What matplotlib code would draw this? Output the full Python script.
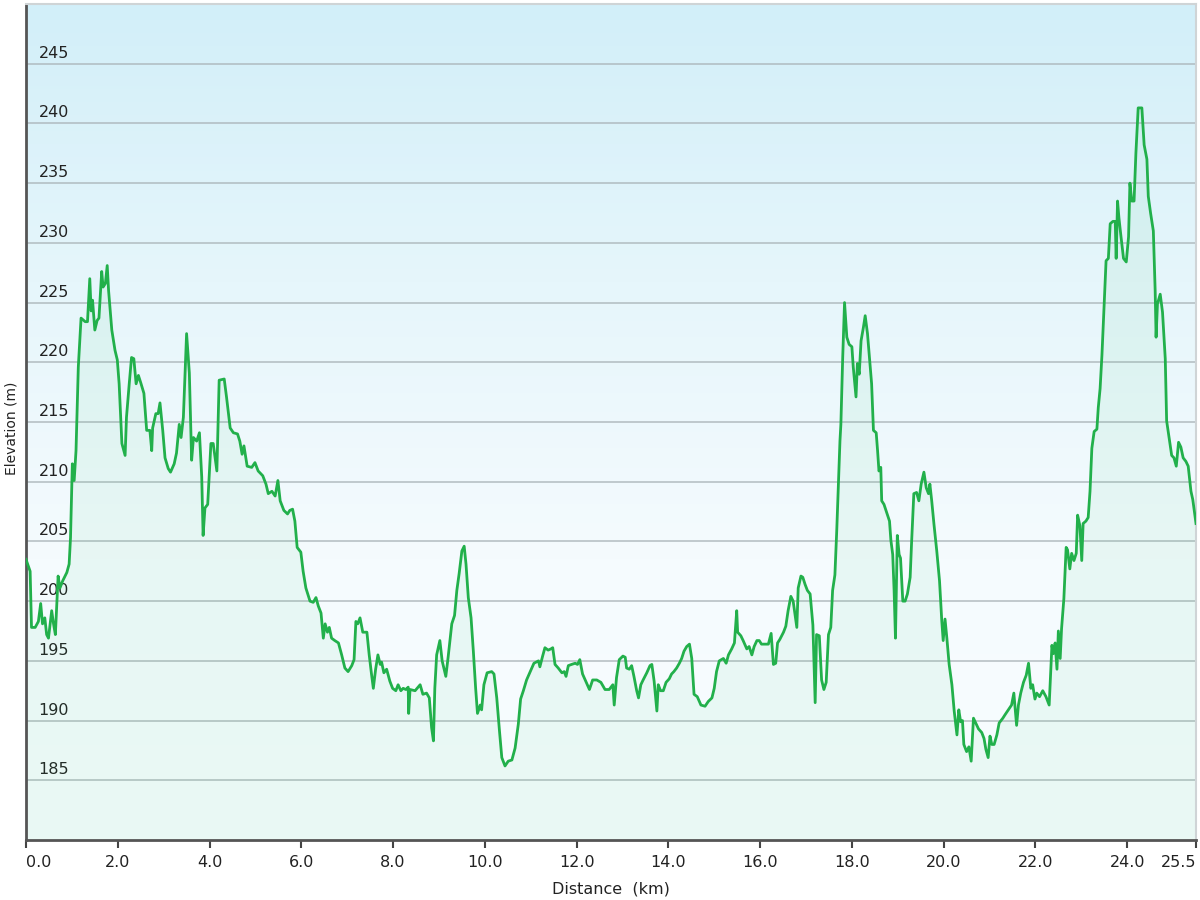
import matplotlib
matplotlib.use("Agg")
import matplotlib.pyplot as plt
import numpy as np
from matplotlib.colors import LinearSegmentedColormap
from matplotlib.transforms import ScaledTranslation

# distance along the route (km) and elevation (m)
distance_km = [
    0.00, 0.09, 0.12, 0.20, 0.27, 0.32, 0.36, 0.41, 0.45, 0.49, 0.56, 0.60, 0.64, 0.70,
    0.74, 0.80, 0.89, 0.94, 0.97, 1.01, 1.05, 1.09, 1.14, 1.20, 1.29, 1.34, 1.39, 1.42,
    1.45, 1.50, 1.55, 1.59, 1.65, 1.68, 1.73, 1.77, 1.80, 1.87, 1.94, 1.99, 2.03, 2.09,
    2.16, 2.19, 2.25, 2.30, 2.35, 2.40, 2.45, 2.50, 2.57, 2.63, 2.70, 2.74, 2.76, 2.83,
    2.88, 2.92, 2.98, 3.03, 3.10, 3.15, 3.23, 3.28, 3.34, 3.38, 3.43, 3.50, 3.56, 3.61,
    3.65, 3.72, 3.78, 3.83, 3.86, 3.90, 3.96, 4.03, 4.08, 4.16, 4.21, 4.32, 4.37, 4.45,
    4.52, 4.61, 4.66, 4.71, 4.75, 4.82, 4.92, 4.99, 5.06, 5.16, 5.23, 5.28, 5.36, 5.43,
    5.49, 5.54, 5.62, 5.70, 5.75, 5.81, 5.86, 5.91, 5.99, 6.04, 6.10, 6.19, 6.26, 6.32,
    6.37, 6.43, 6.48, 6.52, 6.57, 6.61, 6.66, 6.73, 6.81, 6.88, 6.95, 7.02, 7.10, 7.15,
    7.19, 7.23, 7.28, 7.34, 7.43, 7.48, 7.53, 7.57, 7.62, 7.67, 7.72, 7.75, 7.80, 7.86,
    7.93, 7.99, 8.06, 8.11, 8.17, 8.22, 8.28, 8.33, 8.34, 8.37, 8.48, 8.59, 8.65, 8.73,
    8.79, 8.84, 8.88, 8.91, 8.95, 9.02, 9.07, 9.15, 9.20, 9.28, 9.34, 9.39, 9.44, 9.50,
    9.55, 9.59, 9.64, 9.70, 9.75, 9.80, 9.84, 9.90, 9.93, 9.98, 10.05, 10.15, 10.20, 10.26,
    10.32, 10.37, 10.44, 10.51, 10.59, 10.66, 10.73, 10.78, 10.84, 10.91, 10.99, 11.07, 11.17, 11.20,
    11.26, 11.31, 11.38, 11.44, 11.48, 11.53, 11.60, 11.68, 11.73, 11.77, 11.82, 11.89, 11.97, 12.02,
    12.07, 12.13, 12.21, 12.28, 12.35, 12.44, 12.53, 12.62, 12.71, 12.79, 12.82, 12.87, 12.93, 13.01,
    13.06, 13.09, 13.15, 13.20, 13.25, 13.31, 13.35, 13.40, 13.45, 13.53, 13.60, 13.64, 13.69, 13.75,
    13.78, 13.83, 13.89, 13.95, 14.02, 14.07, 14.12, 14.18, 14.24, 14.29, 14.34, 14.40, 14.46, 14.51,
    14.56, 14.63, 14.71, 14.80, 14.87, 14.95, 15.00, 15.05, 15.11, 15.20, 15.26, 15.31, 15.38, 15.44,
    15.49, 15.51, 15.58, 15.63, 15.71, 15.76, 15.82, 15.87, 15.93, 15.98, 16.03, 16.11, 16.18, 16.24,
    16.29, 16.34, 16.38, 16.43, 16.51, 16.56, 16.61, 16.67, 16.72, 16.80, 16.83, 16.89, 16.93, 16.98,
    17.03, 17.09, 17.15, 17.20, 17.23, 17.29, 17.34, 17.39, 17.44, 17.49, 17.54, 17.58, 17.63, 17.67,
    17.70, 17.74, 17.76, 17.80, 17.84, 17.89, 17.94, 18.00, 18.03, 18.09, 18.12, 18.16, 18.20, 18.25,
    18.29, 18.34, 18.40, 18.43, 18.47, 18.53, 18.56, 18.59, 18.63, 18.65, 18.70, 18.76, 18.82, 18.85,
    18.89, 18.92, 18.95, 18.99, 19.03, 19.06, 19.11, 19.16, 19.21, 19.27, 19.30, 19.35, 19.41, 19.46,
    19.51, 19.57, 19.62, 19.67, 19.70, 19.74, 19.79, 19.85, 19.91, 19.96, 19.99, 20.03, 20.07, 20.12,
    20.18, 20.23, 20.29, 20.33, 20.37, 20.41, 20.44, 20.50, 20.55, 20.60, 20.65, 20.71, 20.76, 20.83,
    20.88, 20.92, 20.97, 21.01, 21.05, 21.10, 21.16, 21.21, 21.29, 21.34, 21.41, 21.48, 21.53, 21.59,
    21.63, 21.68, 21.74, 21.80, 21.85, 21.90, 21.94, 21.99, 22.03, 22.09, 22.16, 22.23, 22.30, 22.36,
    22.39, 22.43, 22.47, 22.50, 22.54, 22.57, 22.62, 22.67, 22.70, 22.75, 22.79, 22.84, 22.89, 22.92,
    22.97, 23.01, 23.04, 23.10, 23.15, 23.19, 23.23, 23.28, 23.34, 23.37, 23.41, 23.45, 23.50, 23.54,
    23.59, 23.63, 23.69, 23.74, 23.76, 23.79, 23.82, 23.86, 23.92, 23.98, 24.03, 24.06, 24.10, 24.15,
    24.19, 24.24, 24.32, 24.37, 24.43, 24.46, 24.51, 24.57, 24.61, 24.63, 24.66, 24.72, 24.77, 24.83,
    24.86, 24.91, 24.97, 25.02, 25.07, 25.12, 25.17, 25.22, 25.28, 25.33, 25.39, 25.43, 25.50,
]
elevation_m = [
    203.5, 202.5, 197.8, 197.8, 198.3, 199.8, 198.1, 198.6, 197.2, 196.9, 199.2, 198.1, 197.2, 202.1,
    201.1, 201.7, 202.4, 203.1, 205.3, 211.5, 210.1, 212.6, 219.6, 223.7, 223.4, 223.4, 227.0, 224.3,
    225.2, 222.7, 223.5, 223.7, 227.6, 226.3, 226.6, 228.1, 226.0, 222.7, 221.0, 220.2, 218.2, 213.2,
    212.2, 215.4, 218.2, 220.4, 220.3, 218.2, 218.9, 218.3, 217.4, 214.3, 214.3, 212.6, 214.5, 215.7,
    215.7, 216.6, 214.3, 212.0, 211.1, 210.8, 211.5, 212.4, 214.8, 213.7, 215.4, 222.4, 219.1, 211.8,
    213.7, 213.4, 214.1, 210.4, 205.5, 207.8, 208.1, 213.2, 213.2, 210.9, 218.5, 218.6, 217.1, 214.5,
    214.1, 214.0, 213.4, 212.3, 213.0, 211.3, 211.2, 211.6, 210.9, 210.5, 209.8, 209.0, 209.2, 208.8,
    210.1, 208.4, 207.6, 207.3, 207.6, 207.7, 206.7, 204.5, 204.1, 202.5, 201.1, 200.0, 199.9, 200.3,
    199.6, 199.0, 196.9, 198.1, 197.4, 197.8, 196.9, 196.7, 196.5, 195.5, 194.4, 194.1, 194.6, 195.1,
    198.3, 198.1, 198.6, 197.4, 197.4, 195.5, 193.9, 192.7, 194.3, 195.5, 194.7, 194.9, 194.0, 194.3,
    193.3, 192.7, 192.5, 193.0, 192.5, 192.7, 192.6, 192.8, 190.6, 192.6, 192.5, 193.0, 192.2, 192.3,
    191.9, 189.4, 188.3, 192.7, 195.5, 196.7, 195.0, 193.7, 195.3, 198.1, 198.8, 200.9, 202.3, 204.2,
    204.6, 203.1, 200.3, 198.6, 195.8, 192.7, 190.6, 191.3, 190.9, 193.0, 194.0, 194.1, 193.9, 191.9,
    189.1, 186.9, 186.2, 186.6, 186.7, 187.7, 189.7, 191.8, 192.5, 193.4, 194.1, 194.8, 195.0, 194.5,
    195.4, 196.1, 195.9, 196.0, 196.1, 194.7, 194.4, 194.0, 194.1, 193.7, 194.6, 194.7, 194.8, 194.7,
    195.1, 193.9, 193.2, 192.6, 193.4, 193.4, 193.2, 192.6, 192.6, 193.0, 191.3, 193.6, 195.1, 195.4,
    195.3, 194.4, 194.3, 194.6, 193.7, 192.5, 191.9, 193.0, 193.4, 194.0, 194.6, 194.7, 193.3, 190.8,
    193.0, 192.5, 192.5, 193.2, 193.5, 193.9, 194.1, 194.4, 194.8, 195.2, 195.8, 196.2, 196.4, 195.2,
    192.2, 192.0, 191.3, 191.2, 191.6, 191.9, 192.7, 194.1, 195.0, 195.2, 194.8, 195.5, 196.0, 196.5,
    199.2, 197.4, 197.1, 196.7, 196.0, 196.2, 195.5, 196.2, 196.7, 196.7, 196.4, 196.4, 196.4, 197.3,
    194.7, 194.8, 196.5, 196.8, 197.4, 197.9, 199.2, 200.4, 200.0, 197.8, 201.1, 202.1, 202.0, 201.4,
    200.9, 200.6, 198.0, 191.5, 197.2, 197.1, 193.4, 192.6, 193.2, 197.2, 197.8, 200.9, 202.2, 205.9,
    209.2, 213.4, 214.8, 220.4, 225.0, 222.1, 221.5, 221.3, 219.6, 217.1, 219.9, 219.0, 221.8, 222.9,
    223.9, 222.4, 219.6, 218.2, 214.3, 214.1, 212.6, 210.9, 211.2, 208.4, 208.1, 207.4, 206.7, 205.1,
    203.9, 200.9, 196.9, 205.5, 203.9, 203.6, 200.0, 200.0, 200.6, 202.0, 204.8, 209.0, 209.1, 208.4,
    209.8, 210.8, 209.5, 209.0, 209.8, 208.4, 206.4, 204.2, 201.7, 198.3, 196.7, 198.5, 196.9, 194.7,
    193.0, 190.8, 188.8, 190.9, 189.9, 190.0, 188.0, 187.4, 187.8, 186.6, 190.2, 189.7, 189.3, 189.0,
    188.5, 187.6, 186.9, 188.7, 188.0, 188.0, 188.8, 189.8, 190.2, 190.5, 190.9, 191.3, 192.3, 189.6,
    191.3, 192.3, 193.2, 193.8, 194.8, 192.7, 193.0, 191.8, 192.3, 192.0, 192.5, 192.0, 191.3, 196.3,
    195.6, 196.5, 194.3, 197.5, 195.2, 197.7, 200.2, 204.5, 204.3, 202.7, 204.0, 203.4, 204.0, 207.2,
    206.3, 203.4, 206.5, 206.7, 207.0, 209.2, 212.8, 214.2, 214.4, 216.2, 217.8, 220.6, 224.9, 228.5,
    228.7, 231.6, 231.8, 231.8, 228.7, 233.5, 232.1, 230.7, 228.7, 228.4, 230.5, 235.0, 233.5, 233.5,
    237.5, 241.3, 241.3, 238.2, 237.0, 233.9, 232.5, 231.0, 226.0, 222.1, 224.9, 225.7, 224.2, 220.3,
    215.1, 213.8, 212.2, 212.0, 211.3, 213.3, 212.9, 212.0, 211.7, 211.3, 209.2, 208.5, 206.5,
]

x_ticks = [0, 2, 4, 6, 8, 10, 12, 14, 16, 18, 20, 22, 24, 25.5]
x_labels = ["0.0", "2.0", "4.0", "6.0", "8.0", "10.0", "12.0", "14.0", "16.0",
            "18.0", "20.0", "22.0", "24.0", "25.5"]
y_ticks = [185, 190, 195, 200, 205, 210, 215, 220, 225, 230, 235, 240, 245]

line_green = "#22b04b"
text_col = "#222222"

fig = plt.figure(figsize=(12, 9), dpi=100)
ax = fig.add_axes([26 / 1200, 60 / 900, 1170 / 1200, 836 / 900])

x_min, x_max, y_min, y_max = 0, 25.5, 180, 250
ax.set_xlim(x_min, x_max)
ax.set_ylim(y_min, y_max)

# sky style background, light blue at the top fading to almost white
bg = LinearSegmentedColormap.from_list("bg", ["#f8fdfe", "#f5fbfe", "#e6f6fb", "#d2eff9"])
grad = np.linspace(0, 1, 256).reshape(-1, 1)
ax.imshow(grad, cmap=bg, origin="lower", aspect="auto",
          extent=[x_min, x_max, y_min, y_max], zorder=0)

for t in y_ticks:
    ax.axhline(t, color="#aab4b8", lw=1.3, alpha=0.75, zorder=1)

ax.fill_between(distance_km, elevation_m, y_min, color="#3cc878", alpha=0.07,
                lw=0, zorder=2)
ax.plot(distance_km, elevation_m, color=line_green, lw=2.0, zorder=3,
        solid_joinstyle="round")

ax.set_xticks(x_ticks)
ax.set_xticklabels(x_labels)
ax.set_yticks(y_ticks)
ax.set_yticklabels([str(t) for t in y_ticks])
ax.tick_params(axis="x", direction="out", length=6, width=1.5, color="#444444",
               pad=5, labelsize=11.5, labelcolor=text_col)
ax.tick_params(axis="y", length=0, pad=-9, labelsize=11.5, labelcolor=text_col)
lift = ScaledTranslation(0, 3 / 100, fig.dpi_scale_trans)
for lbl in ax.get_yticklabels():
    lbl.set_horizontalalignment("left")
    lbl.set_verticalalignment("bottom")
    lbl.set_transform(lbl.get_transform() + lift)
xl = ax.get_xticklabels()
xl[0].set_horizontalalignment("left")
xl[-1].set_horizontalalignment("right")

for side in ["left", "bottom"]:
    ax.spines[side].set_color("#555555")
    ax.spines[side].set_linewidth(2)
for side in ["top", "right"]:
    ax.spines[side].set_color("#cfd4d6")
    ax.spines[side].set_linewidth(1.5)

ax.set_xlabel("Distance  (km)", fontsize=11.5, color=text_col, labelpad=8)
fig.text(12 / 1200, 1 - 428 / 900, "Elevation (m)", rotation=90, fontsize=10,
         color=text_col, ha="center", va="center")

fig.savefig("out.png", dpi=100)
